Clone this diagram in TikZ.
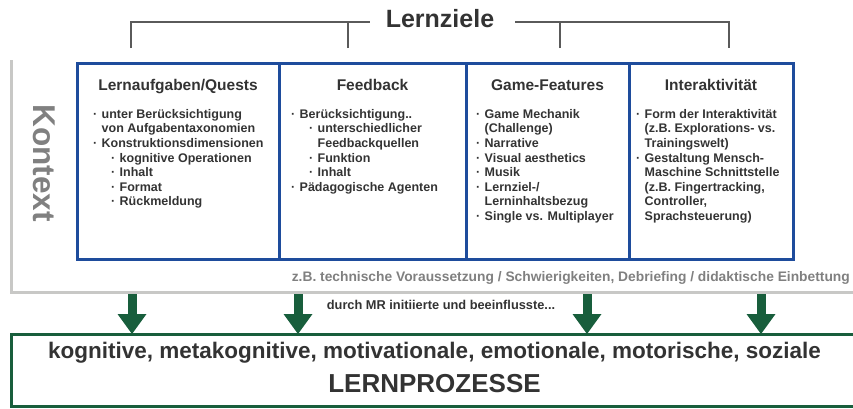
\documentclass[tikz,border=0pt]{standalone}
\usepackage{fontspec}
\setmainfont{Liberation Sans}
\usetikzlibrary{positioning,arrows.meta}

\definecolor{boxblue}{RGB}{30,76,156}
\definecolor{lpgreen}{RGB}{24,94,60}
\definecolor{ctxgray}{RGB}{200,200,198}
\definecolor{txtdark}{RGB}{51,51,51}
\definecolor{txtgray}{RGB}{128,128,128}
\definecolor{brkgray}{RGB}{90,90,90}

\newcommand\fs[2]{\fontsize{#1}{#2}\selectfont}
\newcommand\bul[1]{\makebox[8.5pt][l]{·}#1}
\newcommand\cnt[1]{\hspace*{8.5pt}#1}
\newcommand\sbul[1]{\hspace*{18pt}\makebox[8.5pt][l]{·}#1}
\newcommand\scnt[1]{\hspace*{26.5pt}#1}

\tikzset{
  col/.style={draw=boxblue, line width=3pt, outer sep=0pt, minimum height=196pt, anchor=north west},
  hdr/.style={inner sep=0pt, text=txtdark, font=\bfseries\fs{15.5}{18}},
  body/.style={inner sep=0pt, anchor=north west, align=left, text=txtdark, font=\bfseries\fs{12.5}{14.6}},
  title/.style={inner sep=0pt, text=txtdark, font=\bfseries\fs{25}{30}},
  brk/.style={draw=brkgray, line width=2pt},
  ctx/.style={draw=ctxgray, line width=3pt},
  ktx/.style={inner sep=0pt, text=txtgray, font=\bfseries\fs{31.5}{36}},
  note/.style={inner sep=0pt, text=txtgray, font=\bfseries\fs{13.8}{16}},
  mid/.style={inner sep=0pt, text=txtdark, font=\bfseries\fs{12.8}{15}},
  lp/.style={draw=lpgreen, line width=3pt, outer sep=0pt, anchor=north west},
  kog/.style={inner sep=0pt, text=txtdark, font=\bfseries\fs{22.5}{26}},
  lpt/.style={inner sep=0pt, text=txtdark, font=\bfseries\fs{26}{30}},
  arr/.style={draw=lpgreen, line width=9pt, -{Triangle[width=29pt,length=20pt,line width=0pt]}}
}

\begin{document}
\begin{tikzpicture}[x=1pt,y=-1pt]
\useasboundingbox (0,0) rectangle (853,408);
% Kontext
\draw[ctx] (11,60) -- (11,292) -- (860,292);
\node[ktx, rotate=-90] (kx) at (44,163) {Kontext};

% the four columns
\node[col, minimum width=202pt] (c1) at (77,63) {};
\node[col, minimum width=187pt, right=0pt of c1] (c2) {};
\node[col, minimum width=163pt, right=0pt of c2] (c3) {};
\node[col, minimum width=164pt, right=0pt of c3] (c4) {};

\node[hdr, below=16.5pt of c1.north] (h1) {Lernaufgaben/Quests};
\node[hdr, below=16.5pt of c2.north] (h2) {Feedback};
\node[hdr, below=16.5pt of c3.north] (h3) {Game-Features};
\node[hdr, below=16.5pt of c4.north] (h4) {Interaktivität};

\node[body] (b1) at (93,109) {\bul{unter Berücksichtigung}\\
  \cnt{von Aufgabentaxonomien}\\
  \bul{Konstruktionsdimensionen}\\
  \sbul{kognitive Operationen}\\
  \sbul{Inhalt}\\
  \sbul{Format}\\
  \sbul{Rückmeldung}};
\node[body] (b2) at (291,109) {\bul{Berücksichtigung..}\\
  \sbul{unterschiedlicher}\\
  \scnt{Feedbackquellen}\\
  \sbul{Funktion}\\
  \sbul{Inhalt}\\
  \bul{Pädagogische Agenten}};
\node[body] (b3) at (476,109) {\bul{Game Mechanik}\\
  \cnt{(Challenge)}\\
  \bul{Narrative}\\
  \bul{Visual aesthetics}\\
  \bul{Musik}\\
  \bul{Lernziel-/}\\
  \cnt{Lerninhaltsbezug}\\
  \bul{Single vs. Multiplayer}};
\node[body] (b4) at (636,109) {\bul{Form der Interaktivität}\\
  \cnt{(z.B. Explorations- vs.}\\
  \cnt{Trainingswelt)}\\
  \bul{Gestaltung Mensch-}\\
  \cnt{Maschine Schnittstelle}\\
  \cnt{(z.B. Fingertracking,}\\
  \cnt{Controller,}\\
  \cnt{Sprachsteuerung)}};

% Lernziele bracket
\node[title] (lz) at (440,19) {Lernziele};
\coordinate (zl) at (370,22);
\coordinate (zr) at (515,22);
\coordinate (d1) at (131,48);
\coordinate (d2) at (348,48);
\coordinate (d3) at (560,48);
\coordinate (d4) at (729,48);
\draw[brk] (d1) |- (zl);
\draw[brk] (d2) -- (d2 |- zl);
\draw[brk] (zr) -| (d4);
\draw[brk] (d3) -- (d3 |- zr);

\node[note, anchor=east] (nt) at (850,278) {z.B. technische Voraussetzung / Schwierigkeiten, Debriefing / didaktische Einbettung};

% Lernprozesse
\node[lp, minimum width=847pt, minimum height=72pt] (lp) at (11,334) {};
\node[kog, below=8pt of lp.north] (k1) {kognitive, metakognitive, motivationale, emotionale, motorische, soziale};
\node[lpt, below=11pt of k1] (k2) {LERNPROZESSE};
\node[mid] (dm) at (441,305) {durch MR initiierte und beeinflusste...};

\coordinate (a1) at (132,294);
\coordinate (a2) at (298,294);
\coordinate (a3) at (587,294);
\coordinate (a4) at (761,294);
\foreach \a in {a1,a2,a3,a4}
  \draw[arr] (\a) -- (\a |- lp.north);
\end{tikzpicture}
\end{document}
